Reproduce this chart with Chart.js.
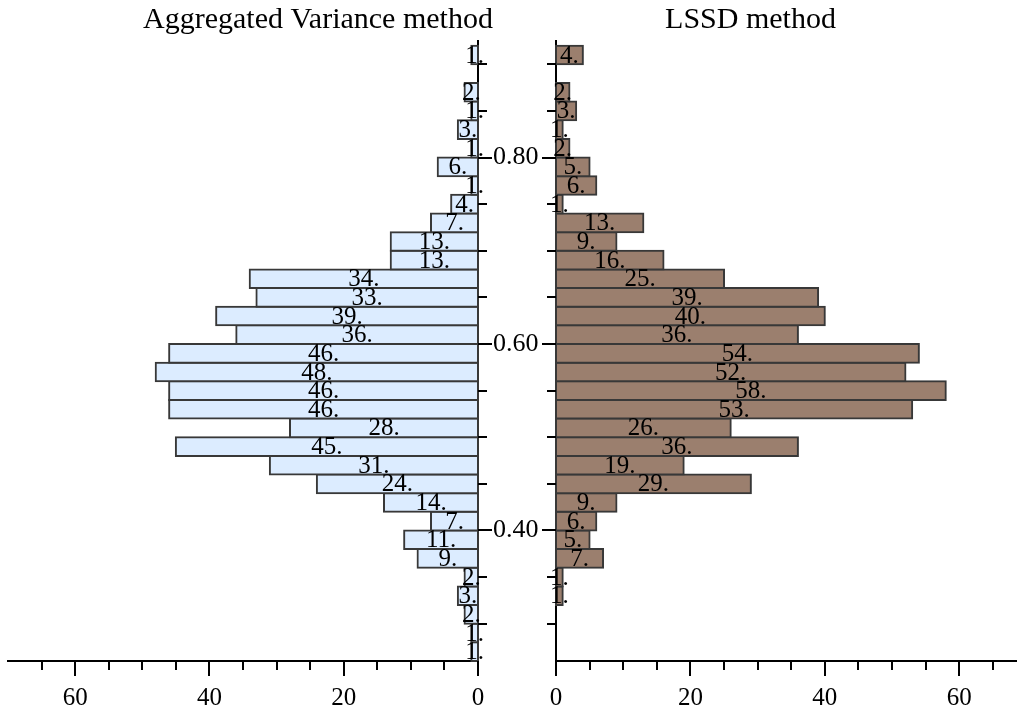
<!DOCTYPE html>
<html>
<head>
<meta charset="utf-8">
<script src="https://cdn.jsdelivr.net/npm/chart.js@4.4.1/dist/chart.umd.min.js"></script>
<style>
  body { margin: 0; background: #fff; }
  #wrap { position: relative; width: 1017px; height: 712px; }
  canvas { position: absolute; top: 0; }
  #leftChart { left: 0; }
  #rightChart { left: 484px; }
</style>
</head>
<body>
<div id="wrap">
  <canvas id="leftChart" width="628" height="712"></canvas>
  <canvas id="rightChart" width="533" height="712"></canvas>
</div>
<script>
// bin centres (bins are 0.02 wide)
const binCenters = [0.27, 0.29, 0.31, 0.33, 0.35, 0.37, 0.39, 0.41, 0.43, 0.45, 0.47,
                    0.49, 0.51, 0.53, 0.55, 0.57, 0.59, 0.61, 0.63, 0.65, 0.67, 0.69,
                    0.71, 0.73, 0.75, 0.77, 0.79, 0.81, 0.83, 0.85, 0.87, 0.89, 0.91];

// counts, same order as binCenters
const aggVarCounts = [1, 1, 2, 3, 2, 9, 11, 7, 14, 24, 31,
                      45, 28, 46, 46, 48, 46, 36, 39, 33, 34, 13,
                      13, 7, 4, 1, 6, 1, 3, 1, 2, 0, 1];
const lssdCounts = [0, 0, 0, 1, 1, 7, 5, 6, 9, 29, 19,
                    36, 26, 53, 58, 52, 54, 36, 40, 39, 25, 16,
                    9, 13, 1, 6, 5, 2, 1, 3, 2, 0, 4];

const titles = ['Aggregated Variance method', 'LSSD method'];
const xTickValues = [0, 20, 40, 60];
const xTickLabels = ['0', '20', '40', '60'];
const yTickValues = [0.40, 0.60, 0.80];
const yTickLabels = ['0.40', '0.60', '0.80'];

Chart.defaults.font.family = "'Liberation Serif', 'Times New Roman', serif";
Chart.defaults.color = '#000';

// value labels like "46." in the middle of each bar
const barLabels = {
    id: 'barLabels',
    afterDatasetsDraw(chart) {
        const ctx = chart.ctx;
        const ds = chart.data.datasets[0];
        const meta = chart.getDatasetMeta(0);
        ctx.save();
        ctx.font = "25px 'Liberation Serif', serif";
        ctx.fillStyle = '#000';
        ctx.textAlign = 'center';
        ctx.textBaseline = 'middle';
        meta.data.forEach((bar, i) => {
            const v = ds.data[i].x;
            if (!v) return;
            ctx.fillText(v + '.', (bar.x + bar.base) / 2, bar.y + 1);
        });
        ctx.restore();
    }
};

// major / minor tick marks on both axes
const tickMarks = {
    id: 'tickMarks',
    afterDraw(chart, args, opts) {
        const ctx = chart.ctx;
        const xs = chart.scales.x, ys = chart.scales.y;
        ctx.save();
        ctx.strokeStyle = '#000';
        ctx.lineWidth = 2;
        ctx.beginPath();
        for (let v = 0; v < xs.max - 1; v += 5) {
            const px = Math.round(xs.getPixelForValue(v));
            const len = v % 20 === 0 ? 15 : 9;
            ctx.moveTo(px, xs.top);
            ctx.lineTo(px, xs.top + len);
        }
        const dir = opts.side === 'right' ? 1 : -1;
        const edge = dir > 0 ? chart.chartArea.right : chart.chartArea.left;
        for (let k = 6; k <= 18; k++) {
            const py = Math.round(ys.getPixelForValue(k * 0.05));
            const len = k % 4 === 0 ? 14 : 9;
            ctx.moveTo(edge, py);
            ctx.lineTo(edge + dir * len, py);
        }
        ctx.stroke();
        ctx.restore();
    }
};

function makeChart(canvasId, title, counts, fill, side) {
    const left = side === 'right';
    return new Chart(document.getElementById(canvasId), {
        type: 'bar',
        data: {
            datasets: [{
                data: binCenters.map((c, i) => ({ y: c, x: counts[i] })),
                backgroundColor: fill,
                borderColor: '#383838',
                borderWidth: 2,
                inflateAmount: 1, // centre the outline on the bin edges, like the original
                borderSkipped: false,
                barPercentage: 1,
                categoryPercentage: 1,
                clip: false
            }]
        },
        options: {
            indexAxis: 'y',
            responsive: false,
            animation: false,
            layout: { padding: { left: left ? 8 : 0, right: 0, top: 0, bottom: 0 } },
            scales: {
                x: {
                    type: 'linear',
                    reverse: left,
                    min: 0,
                    max: left ? 70 : 68.6,
                    afterBuildTicks: s => { s.ticks = xTickValues.map(v => ({ value: v })); },
                    afterFit: s => { s.height = 51; },
                    grid: { display: false, drawTicks: false },
                    border: { display: true, color: '#000', width: 2 },
                    ticks: {
                        padding: 22,
                        autoSkip: false,
                        maxRotation: 0,
                        font: { size: 25 },
                        callback: (v, i) => xTickLabels[i]
                    }
                },
                y: {
                    type: 'linear',
                    offset: false,
                    position: left ? 'right' : 'left',
                    min: 0.26,
                    max: 0.925,
                    afterBuildTicks: s => { s.ticks = yTickValues.map(v => ({ value: v })); },
                    afterFit: s => { s.width = left ? 150 : 72; },
                    grid: { display: false, drawTicks: false },
                    border: { display: true, color: '#000', width: 2 },
                    ticks: {
                        display: left,
                        padding: 15,
                        font: { size: 26 },
                        callback: (v, i) => yTickLabels[i]
                    }
                }
            },
            plugins: {
                legend: { display: false },
                tooltip: { enabled: false },
                tickMarks: { side: side },
                title: {
                    display: true,
                    text: title,
                    color: '#000',
                    font: { size: 30, weight: 'normal' },
                    padding: { top: 2, bottom: 3 }
                }
            }
        },
        plugins: [barLabels, tickMarks]
    });
}

makeChart('leftChart', titles[0], aggVarCounts, '#dcecff', 'right');
makeChart('rightChart', titles[1], lssdCounts, '#9b7f6e', 'left');
</script>
</body>
</html>
